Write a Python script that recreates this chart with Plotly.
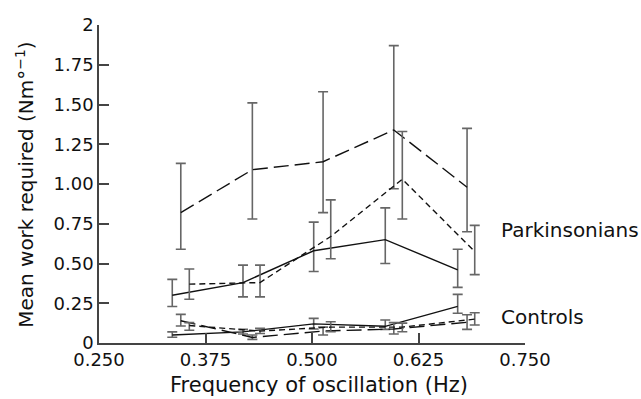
import plotly.graph_objects as go

# ---- data ----
park_solid_x = [0.336, 0.419, 0.502, 0.586, 0.671]
park_solid_y = [0.30, 0.38, 0.58, 0.65, 0.46]
park_solid_hi = [0.40, 0.49, 0.76, 0.85, 0.59]
park_solid_lo = [0.23, 0.29, 0.45, 0.50, 0.35]

park_long_x = [0.346, 0.430, 0.513, 0.596, 0.682]
park_long_y = [0.82, 1.09, 1.14, 1.34, 0.98]
park_long_hi = [1.13, 1.51, 1.58, 1.87, 1.35]
park_long_lo = [0.59, 0.78, 0.82, 0.97, 0.70]

park_short_x = [0.356, 0.439, 0.522, 0.606, 0.691]
park_short_y = [0.37, 0.38, 0.67, 1.03, 0.575]
park_short_hi = [0.465, 0.49, 0.90, 1.33, 0.74]
park_short_lo = [0.275, 0.29, 0.53, 0.78, 0.43]

ctrl_solid_x = [0.336, 0.419, 0.502, 0.586, 0.671]
ctrl_solid_y = [0.05, 0.07, 0.12, 0.105, 0.23]
ctrl_solid_hi = [0.07, 0.086, 0.155, 0.145, 0.306]
ctrl_solid_lo = [0.036, 0.057, 0.088, 0.086, 0.187]

ctrl_long_x = [0.346, 0.430, 0.513, 0.596, 0.682]
ctrl_long_y = [0.14, 0.035, 0.075, 0.088, 0.13]
ctrl_long_hi = [0.18, 0.05, 0.10, 0.128, 0.178]
ctrl_long_lo = [0.107, 0.023, 0.05, 0.057, 0.086]

ctrl_short_x = [0.356, 0.439, 0.522, 0.606, 0.691]
ctrl_short_y = [0.11, 0.075, 0.10, 0.10, 0.15]
ctrl_short_hi = [0.128, 0.092, 0.134, 0.125, 0.19]
ctrl_short_lo = [0.08, 0.06, 0.071, 0.071, 0.113]

x_tickvals = [0.25, 0.375, 0.5, 0.625, 0.75]
x_ticktext = ["0.250", "0.375", "0.500", "0.625", "0.750"]
y_tickvals = [0, 0.25, 0.5, 0.75, 1.0, 1.25, 1.5, 1.75, 2]
y_ticktext = ["0", "0.25", "0.50", "0.75", "1.00", "1.25", "1.50", "1.75", "2"]

x_title = "Frequency of oscillation (Hz)"
y_title = "Mean work required (Nm°<sup>−1</sup>)"

FONT = "DejaVu Sans"
LINE_C = "#111111"
ERR_C = "#666666"

series = [
    (park_solid_x, park_solid_y, park_solid_hi, park_solid_lo, "solid"),
    (park_long_x, park_long_y, park_long_hi, park_long_lo, "15px,6px"),
    (park_short_x, park_short_y, park_short_hi, park_short_lo, "6px,4px"),
    (ctrl_solid_x, ctrl_solid_y, ctrl_solid_hi, ctrl_solid_lo, "solid"),
    (ctrl_long_x, ctrl_long_y, ctrl_long_hi, ctrl_long_lo, "15px,6px"),
    (ctrl_short_x, ctrl_short_y, ctrl_short_hi, ctrl_short_lo, "6px,4px"),
]

fig = go.Figure()
for xs, ys, hi, lo, dash in series:
    plus = [h - v for h, v in zip(hi, ys)]
    minus = [v - l for v, l in zip(ys, lo)]
    fig.add_trace(go.Scatter(
        x=xs, y=ys, mode="lines",
        line=dict(color=LINE_C, width=1.4, dash=dash),
        error_y=dict(type="data", symmetric=False, array=plus, arrayminus=minus,
                     color=ERR_C, thickness=1.6, width=5),
        showlegend=False, cliponaxis=False,
    ))

fig.add_annotation(x=0.7195, y=0.71, xref="x", yref="y", text="Parkinsonians",
                   showarrow=False, xanchor="left", yanchor="middle",
                   font=dict(family=FONT, size=20, color="#111111"))
fig.add_annotation(x=0.7195, y=0.165, xref="x", yref="y", text="Controls",
                   showarrow=False, xanchor="left", yanchor="middle",
                   font=dict(family=FONT, size=20, color="#111111"))
# axis titles
fig.add_annotation(x=0.5176, y=-0.132, xref="paper", yref="paper", text=x_title,
                   showarrow=False, xanchor="center", yanchor="middle",
                   font=dict(family=FONT, size=21, color="#111111"))
fig.add_annotation(x=-0.174, y=0.497, xref="paper", yref="paper", text=y_title,
                   showarrow=False, xanchor="center", yanchor="middle", textangle=-90,
                   font=dict(family=FONT, size=20, color="#111111"))

fig.update_layout(
    width=641, height=399,
    margin=dict(l=99, r=116, t=25, b=56),
    paper_bgcolor="white", plot_bgcolor="white",
    font=dict(family=FONT, size=18, color="#111111"),
    xaxis=dict(
        range=[0.25, 0.75], tickvals=x_tickvals, ticktext=x_ticktext,
        ticks="inside", ticklen=10, tickwidth=1.5, tickcolor="#444444",
        showline=True, linecolor="#444444", linewidth=1.5,
        showgrid=False, zeroline=False, automargin=False,
        tickfont=dict(family=FONT, size=18),
    ),
    yaxis=dict(
        range=[0, 2], tickvals=y_tickvals, ticktext=y_ticktext,
        ticks="inside", ticklen=10, tickwidth=1.5, tickcolor="#444444",
        showline=True, linecolor="#444444", linewidth=1.5,
        showgrid=False, zeroline=False, automargin=False,
        tickfont=dict(family=FONT, size=18),
    ),
)

fig.write_html("out.html")
